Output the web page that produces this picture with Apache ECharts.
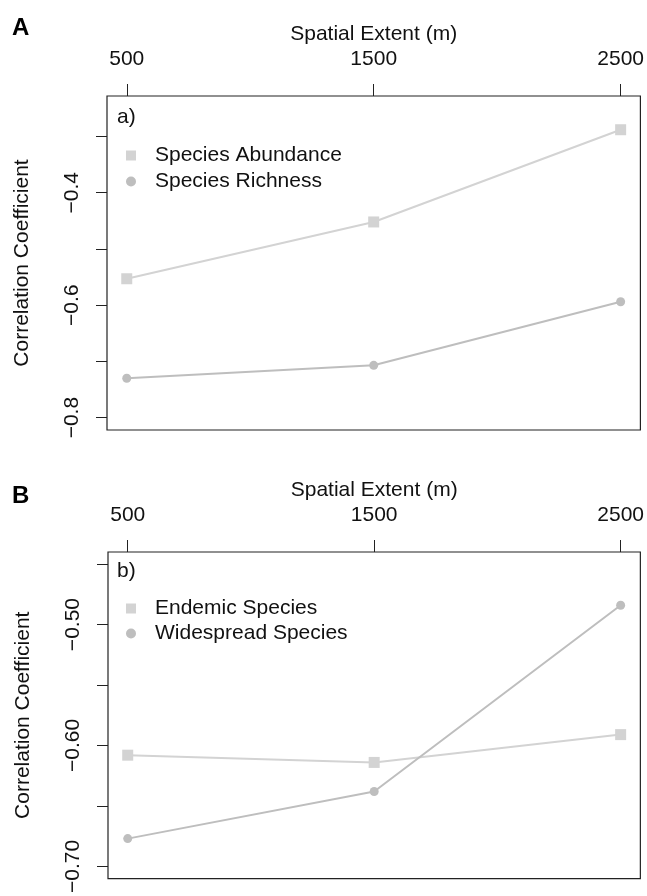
<!DOCTYPE html>
<html>
<head>
<meta charset="utf-8">
<script src="https://cdn.jsdelivr.net/npm/echarts@6/dist/echarts.min.js"></script>
<style>
html,body{margin:0;padding:0;background:#fff;}
#chart{width:647px;height:896px;}
</style>
</head>
<body>
<div id="chart"></div>
<script>
// ---- data ----
const extent = [500, 1500, 2500];
const xTickLabels = [500, 1500, 2500];
const abundance = [-0.553, -0.452, -0.288];
const richness = [-0.730, -0.707, -0.594];
const endemic = [-0.608, -0.614, -0.591];
const widespread = [-0.677, -0.638, -0.484];
const yTicksA = [-0.8, -0.7, -0.6, -0.5, -0.4, -0.3];
const yLabelsA = [-0.8, -0.6, -0.4];
const yTicksB = [-0.70, -0.65, -0.60, -0.55, -0.50, -0.45];
const yLabelsB = [-0.70, -0.60, -0.50];
const namesA = ['Species Abundance', 'Species Richness'];
const namesB = ['Endemic Species', 'Widespread Species'];

const FONT = 'Liberation Sans, Arial, Helvetica, sans-serif';
const FS = 21;
const lightCol = '#d3d3d3';
const darkCol = '#bebebe';

function pts(xs, ys) { return xs.map((x, i) => [x, ys[i]]); }
function minus(v, d) { return (v < 0 ? '\u2212' : '') + Math.abs(v).toFixed(d); }

function xAxis(gi) {
  return {
    type: 'value', gridIndex: gi, position: 'top',
    min: 420, max: 2580,
    splitLine: { show: false },
    axisLine: { show: false },
    axisTick: { customValues: extent, length: 12, lineStyle: { color: '#222', width: 1 } },
    axisLabel: { customValues: xTickLabels, fontFamily: FONT, fontSize: FS, color: '#111', margin: 26,
      formatter: v => String(v) },
    name: 'Spatial Extent (m)', nameLocation: 'middle', nameGap: 51,
    nameTextStyle: { fontFamily: FONT, fontSize: FS, color: '#111' }
  };
}
function yAxis(gi, min, max, ticks, labels, d) {
  return {
    type: 'value', gridIndex: gi, min: min, max: max,
    splitLine: { show: false },
    axisLine: { show: false },
    axisTick: { customValues: ticks, length: 11, lineStyle: { color: '#222', width: 1 } },
    axisLabel: { customValues: labels, rotate: 90, fontFamily: FONT, fontSize: FS, color: '#111', margin: 24,
      formatter: v => minus(v, d) },
    name: 'Correlation Coefficient', nameLocation: 'middle', nameGap: 74, nameRotate: 90,
    nameTextStyle: { fontFamily: FONT, fontSize: FS, color: '#111' }
  };
}
function series(name, gi, ys, col, sym, size) {
  return {
    name: name, type: 'line', xAxisIndex: gi, yAxisIndex: gi,
    data: pts(extent, ys), symbol: sym, symbolSize: size,
    lineStyle: { color: col, width: 2 }, itemStyle: { color: col },
    emphasis: { disabled: true }, animation: false
  };
}
function legend(top, names, gap) {
  return {
    left: 121, top: top, orient: 'vertical', itemGap: gap,
    itemWidth: 10, itemHeight: 10,
    textStyle: { fontFamily: FONT, fontSize: FS, color: '#111', padding: [0, 0, 0, 14] },
    data: [{ name: names[0], icon: 'rect' }, { name: names[1], icon: 'circle' }],
    selectedMode: false
  };
}

const chart = echarts.init(document.getElementById('chart'), null, { renderer: 'canvas' });
chart.setOption({
  animation: false,
  backgroundColor: '#fff',
  grid: [
    { left: 107, top: 96, width: 535, height: 334, show: true, borderColor: '#222', borderWidth: 1.2, containLabel: false },
    { left: 108, top: 552, width: 534, height: 333, show: true, borderColor: '#222', borderWidth: 1.2, containLabel: false }
  ],
  xAxis: [xAxis(0), xAxis(1)],
  yAxis: [
    yAxis(0, -0.822, -0.228, yTicksA, yLabelsA, 1),
    yAxis(1, -0.71, -0.44, yTicksB, yLabelsB, 2)
  ],
  legend: [legend(140, namesA, 5), legend(593, namesB, 4)],
  series: [
    series(namesA[0], 0, abundance, lightCol, 'rect', 11),
    series(namesA[1], 0, richness, darkCol, 'circle', 9),
    series(namesB[0], 1, endemic, lightCol, 'rect', 11),
    series(namesB[1], 1, widespread, darkCol, 'circle', 9)
  ],
  graphic: [
    { type: 'text', left: 12, top: 16, style: { text: 'A', font: 'bold 24px ' + FONT, fill: '#000' } },
    { type: 'text', left: 12, top: 484, style: { text: 'B', font: 'bold 24px ' + FONT, fill: '#000' } },
    { type: 'text', left: 117, top: 107, style: { text: 'a)', font: FS + 'px ' + FONT, fill: '#111' } },
    { type: 'text', left: 117, top: 561, style: { text: 'b)', font: FS + 'px ' + FONT, fill: '#111' } }
  ]
});
</script>
</body>
</html>
